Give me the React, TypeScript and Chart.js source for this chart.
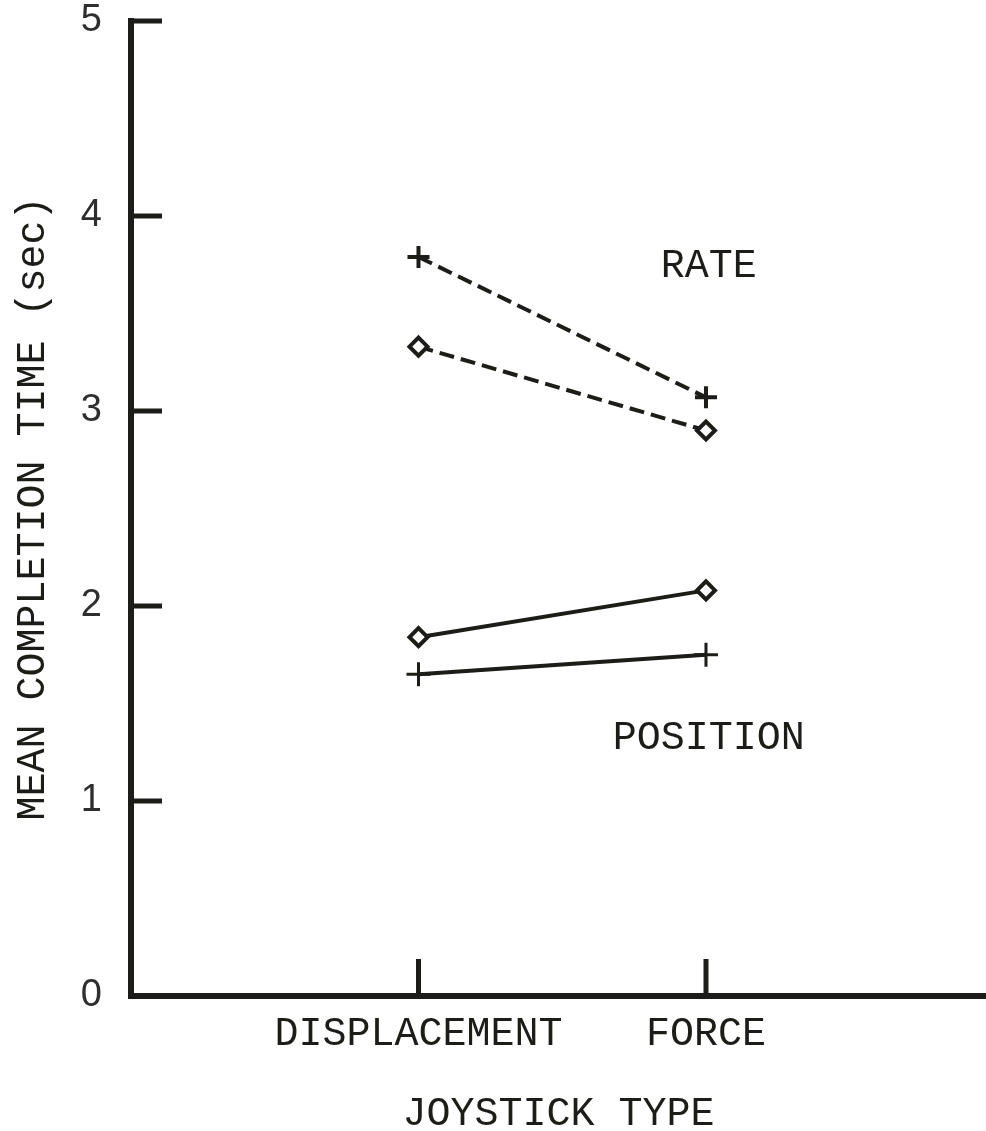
import React, { useEffect, useRef } from 'react';
import { Chart, registerables } from 'chart.js';

Chart.register(...registerables);

// ---- data ----
const categories = ['DISPLACEMENT', 'FORCE'];
const yTickValues = [0, 1, 2, 3, 4, 5];
const rateCross = [3.79, 3.07];
const rateDiamond = [3.33, 2.9];
const positionDiamond = [1.84, 2.08];
const positionCross = [1.65, 1.75];
const annotationLabels = ['RATE', 'POSITION'];
const annotationX = [2.01, 2.01];
const annotationY = [3.74, 1.32];
const yTitle = 'MEAN COMPLETION TIME (sec)';
const xTitle = 'JOYSTICK TYPE';

const INK = '#1c1c18';
const TYPE_FONT = '"Liberation Mono", "DejaVu Sans Mono", monospace';

const toPoints = (vals: number[]) => vals.map((v, i) => ({ x: i + 1, y: v }));

const extrasPlugin = {
  id: 'extras',
  beforeDatasetsDraw(chart: any) {
    const { ctx, chartArea, scales } = chart;
    ctx.save();
    ctx.strokeStyle = INK;
    ctx.lineWidth = 5;
    ctx.lineCap = 'butt';
    yTickValues.forEach((v) => {
      if (v === 0) return;
      const py = scales.y.getPixelForValue(v);
      ctx.beginPath();
      ctx.moveTo(chartArea.left, py);
      ctx.lineTo(chartArea.left + 31, py);
      ctx.stroke();
    });
    categories.forEach((_, i) => {
      const px = scales.x.getPixelForValue(i + 1);
      ctx.beginPath();
      ctx.moveTo(px, chartArea.bottom);
      ctx.lineTo(px, chartArea.bottom - 37);
      ctx.stroke();
    });
    ctx.restore();
  },
  afterDraw(chart: any) {
    const { ctx, scales } = chart;
    ctx.save();
    ctx.fillStyle = INK;
    ctx.font = `40px ${TYPE_FONT}`;
    ctx.textAlign = 'center';
    ctx.textBaseline = 'middle';
    annotationLabels.forEach((t, i) => {
      ctx.fillText(t, scales.x.getPixelForValue(annotationX[i]), scales.y.getPixelForValue(annotationY[i]));
    });
    ctx.restore();
  },
};

export default function App() {
  const ref = useRef<HTMLCanvasElement>(null);

  useEffect(() => {
    if (!ref.current) return;
    const lineBase = {
      borderColor: INK,
      borderWidth: 4,
      pointBackgroundColor: '#ffffff',
      pointBorderColor: INK,
      showLine: true,
      fill: false,
      tension: 0,
    };
    const chart = new Chart(ref.current, {
      type: 'scatter',
      data: {
        datasets: [
          {
            ...lineBase,
            label: 'Rate (+)',
            data: toPoints(rateCross),
            borderDash: [15, 7],
            pointStyle: 'cross',
            pointRadius: 11,
            pointBorderWidth: 4,
          },
          {
            ...lineBase,
            label: 'Rate (◇)',
            data: toPoints(rateDiamond),
            borderDash: [15, 7],
            pointStyle: 'rectRot',
            pointRadius: 9,
            pointBorderWidth: 4,
          },
          {
            ...lineBase,
            label: 'Position (◇)',
            data: toPoints(positionDiamond),
            pointStyle: 'rectRot',
            pointRadius: 9,
            pointBorderWidth: 4,
          },
          {
            ...lineBase,
            label: 'Position (+)',
            data: toPoints(positionCross),
            pointStyle: 'cross',
            pointRadius: 12,
            pointBorderWidth: 3,
          },
        ],
      },
      options: {
        animation: false,
        responsive: false,
        layout: { autoPadding: false, padding: { top: 21, right: 0, left: 0, bottom: 0 } },
        plugins: {
          legend: { display: false },
          tooltip: { enabled: false },
        },
        scales: {
          x: {
            type: 'linear',
            min: 0,
            max: 2.974,
            grid: { display: false, drawTicks: false },
            border: { display: true, color: INK, width: 6 },
            afterBuildTicks: (scale: any) => {
              scale.ticks = categories.map((_, i) => ({ value: i + 1 }));
            },
            afterFit: (scale: any) => {
              scale.height = 135;
              scale.paddingLeft = 0;
              scale.paddingRight = 0;
            },
            ticks: {
              autoSkip: false,
              maxRotation: 0,
              padding: 14,
              color: INK,
              font: { family: TYPE_FONT, size: 40 },
              callback: (v: any) => categories[Number(v) - 1] ?? '',
            },
            title: {
              display: true,
              text: xTitle,
              color: INK,
              font: { family: TYPE_FONT, size: 40, lineHeight: 0.85 },
              padding: { top: 0, bottom: 0 },
            },
          },
          y: {
            type: 'linear',
            min: 0,
            max: 5,
            grid: { display: false, drawTicks: false },
            border: { display: true, color: INK, width: 6 },
            afterBuildTicks: (scale: any) => {
              scale.ticks = yTickValues.map((v) => ({ value: v }));
            },
            afterFit: (scale: any) => {
              scale.width = 131;
              scale.paddingTop = 0;
              scale.paddingBottom = 0;
            },
            ticks: {
              padding: 29,
              color: '#2e2e2e',
              font: { family: '"Liberation Sans", Arial, sans-serif', size: 38 },
              callback: (v: any) => String(v),
            },
            title: {
              display: true,
              text: yTitle,
              color: INK,
              font: { family: TYPE_FONT, size: 40 },
              padding: { top: 9, bottom: 0 },
            },
          },
        },
      },
      plugins: [extrasPlugin],
    });
    return () => chart.destroy();
  }, []);

  return (
    <div style={{ position: 'absolute', left: 0, top: 0, width: 986, height: 1131, background: '#fff' }}>
      <canvas ref={ref} width={986} height={1131} />
    </div>
  );
}
